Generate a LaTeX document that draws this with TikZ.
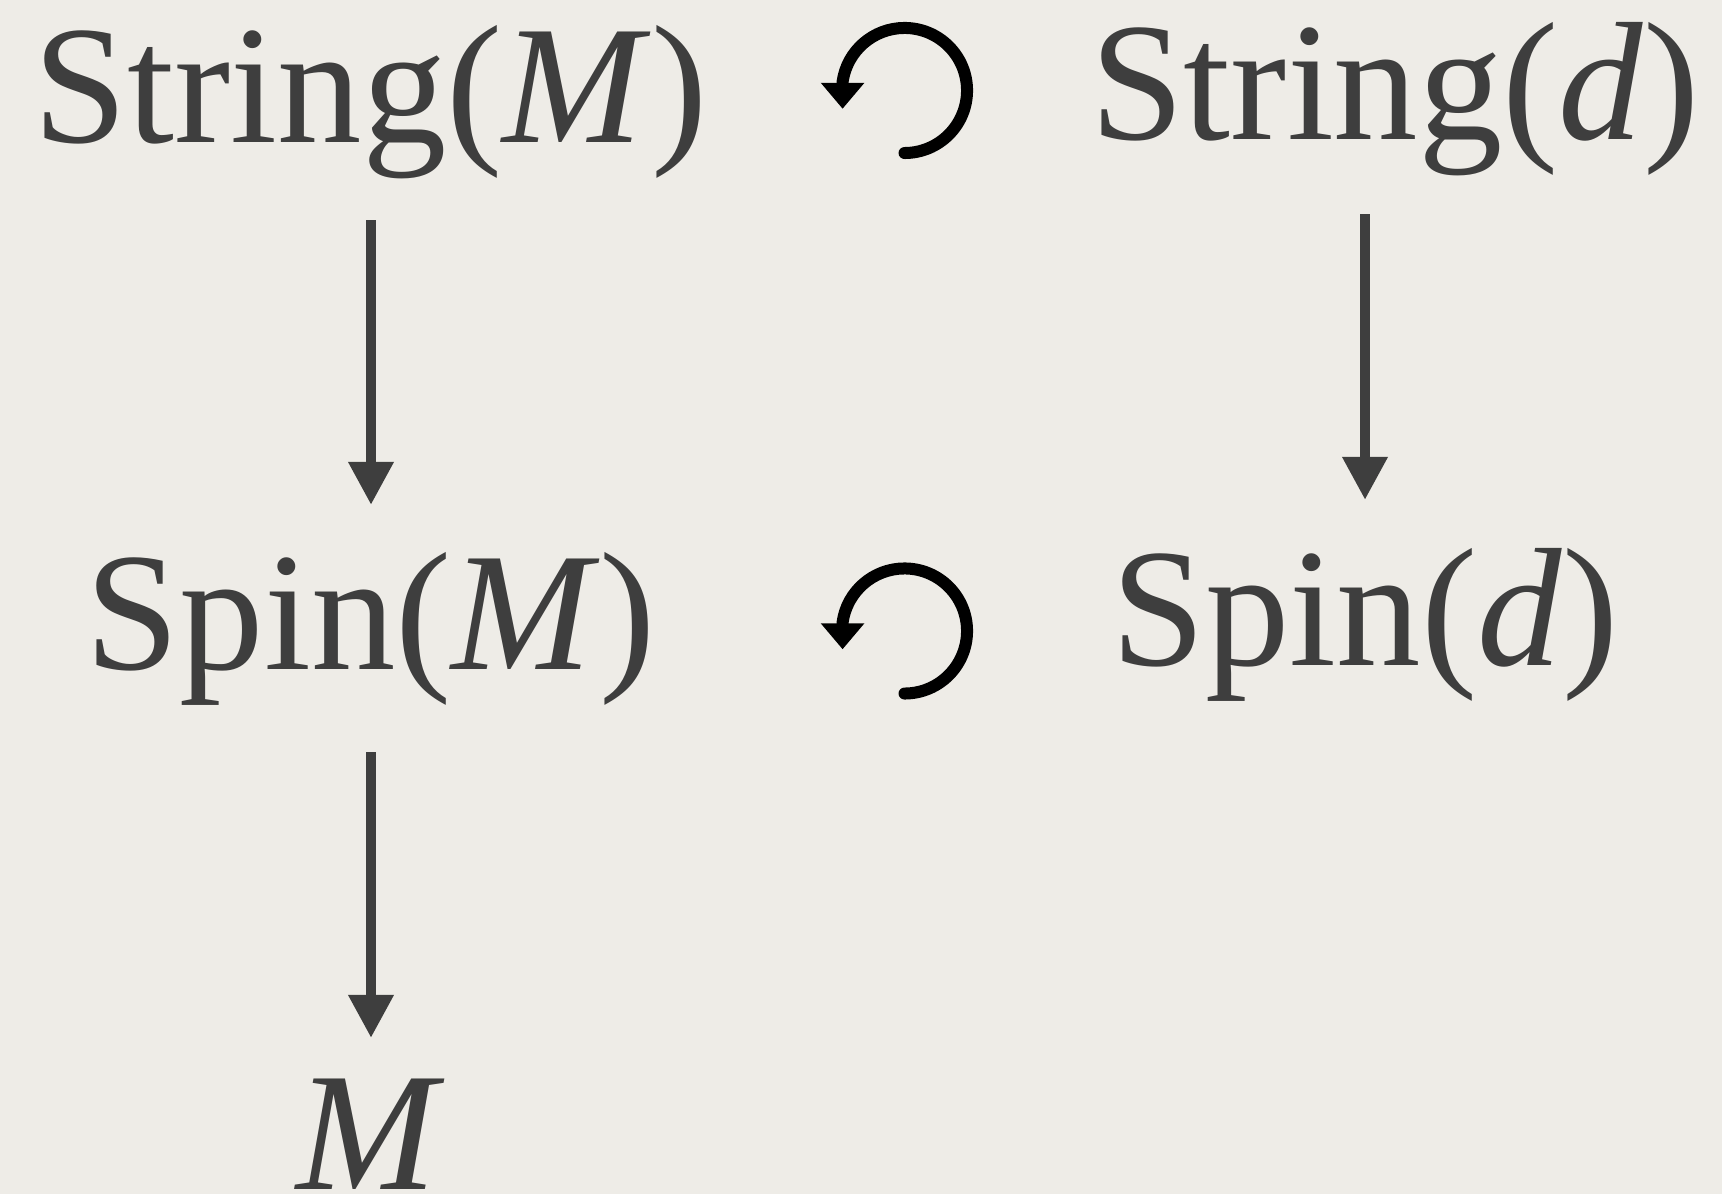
\documentclass[tikz,border=0pt]{standalone}
\usepackage{fontspec}
\setmainfont{Liberation Serif}
\usetikzlibrary{arrows.meta}
\definecolor{paper}{RGB}{238,236,231}
\definecolor{ink}{RGB}{62,62,62}
\begin{document}
\begin{tikzpicture}[x=0.01cm,y=0.01cm,
  lbl/.style={inner sep=0pt, anchor=base, text=ink, font=\fontsize{48}{58}\selectfont},
  arr/.style={draw=ink, line width=0.1cm, -{Triangle[length=0.43cm,width=0.43cm]}},
  circarr/.style={draw=black, line width=0.12cm, line cap=round, -{Triangle[length=0.26cm,width=0.42cm]}}]
\fill[paper] (0,0) rectangle (1722,1194);
\useasboundingbox (0,0) rectangle (1722,1194);
\node[lbl] (strM) at (370.5,1051) {String(\textit{M})};
\node[lbl] (strD) at (1395,1054) {String(\textit{d})};
\node[lbl] (spinM) at (371,524) {Spin(\textit{M})};
\node[lbl] (spinD) at (1365,528) {Spin(\textit{d})};
\node[lbl] (mM) at (371,5) {\textit{M}};
\draw[arr] ([yshift=-0.77cm]strM.base -| spinM.base) -- ([yshift=1.65cm]spinM.base);
\draw[arr] ([yshift=-0.74cm]strD.base -| spinD.base) -- ([yshift=1.66cm]spinD.base);
\draw[arr] ([yshift=-0.82cm]spinM.base) -- ([yshift=1.51cm]mM.base);
\coordinate (rotA) at (904.5,1103.5);
\coordinate (rotB) at (904.5,563);
\draw[circarr] ([yshift=-0.625cm]rotA) arc[start angle=-90,end angle=172,radius=0.625cm] -- ++(0,-27);
\draw[circarr] ([yshift=-0.625cm]rotB) arc[start angle=-90,end angle=172,radius=0.625cm] -- ++(0,-27);
\end{tikzpicture}
\end{document}
